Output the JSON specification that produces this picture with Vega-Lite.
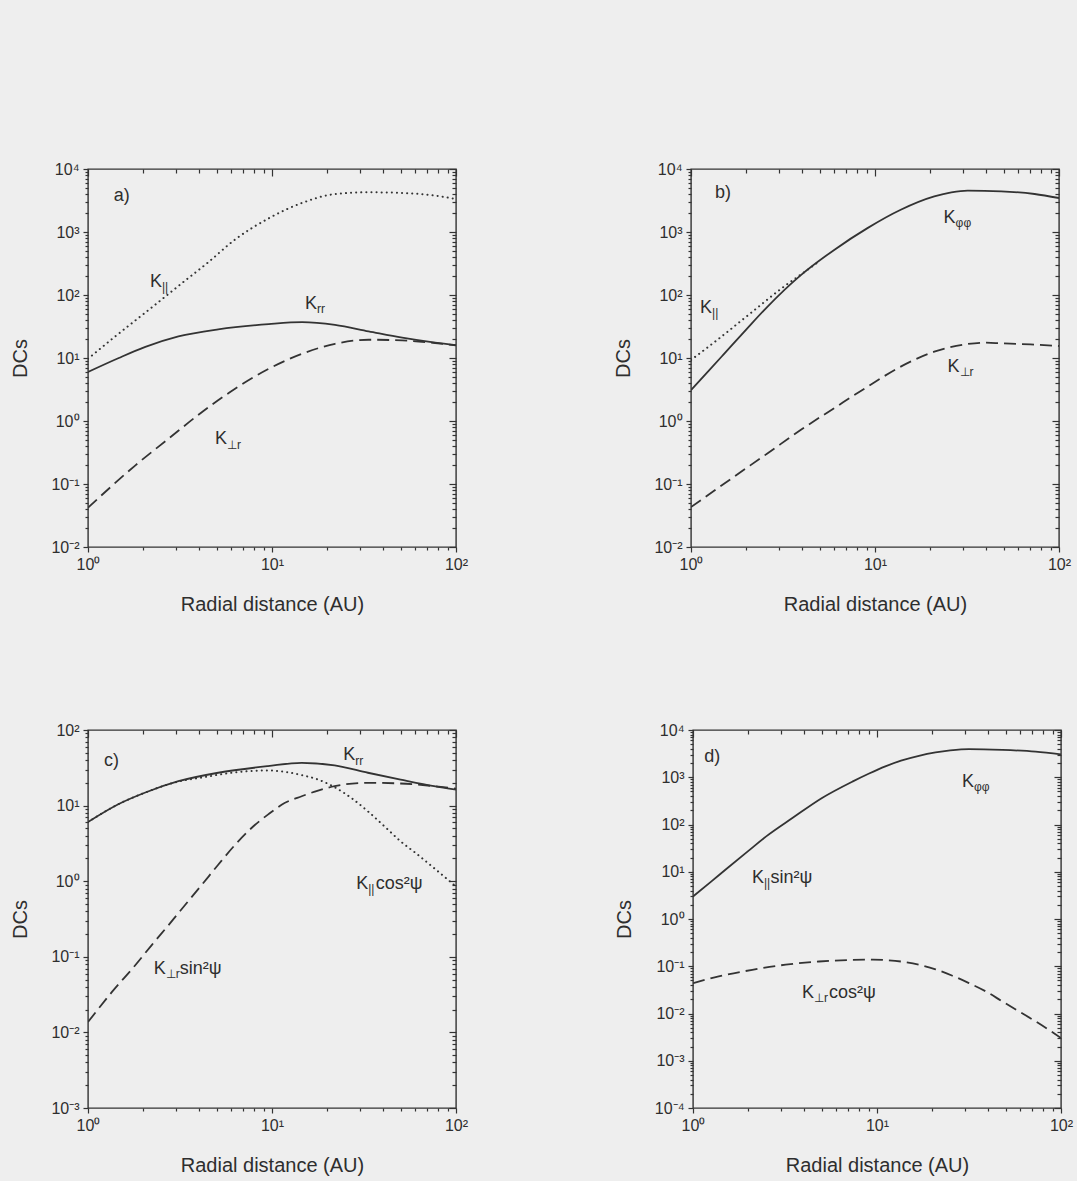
{
  "$schema": "https://vega.github.io/schema/vega-lite/v6.json",
  "background": "#eeeeee",
  "padding": {"left": 10, "top": 160, "right": 5, "bottom": 5},
  "config": {
    "view": {"stroke": "#333333", "strokeWidth": 1.4},
    "font": "Liberation Sans",
    "axis": {"grid": false, "domain": false, "tickColor": "#333333", "tickWidth": 1.2, "labelColor": "#2e2e2e", "titleColor": "#2e2e2e", "labelFont": "Liberation Sans", "titleFont": "Liberation Sans", "labelFontSize": 16, "titleFontSize": 20, "titleFontWeight": "normal", "labelOverlap": false, "labelBound": false, "labelFlush": false, "zindex": 2}
  },
  "datasets": {
    "curves": [
      {"p":"a","s":"Kpar","x":1,"y":9.7},{"p":"a","s":"Kpar","x":1.35,"y":20},{"p":"a","s":"Kpar","x":2.23,"y":64},{"p":"a","s":"Kpar","x":3.31,"y":162},{"p":"a","s":"Kpar","x":4.5,"y":330},{"p":"a","s":"Kpar","x":6.3,"y":760},{"p":"a","s":"Kpar","x":9.6,"y":1650},{"p":"a","s":"Kpar","x":14.6,"y":2900},{"p":"a","s":"Kpar","x":22,"y":4000},{"p":"a","s":"Kpar","x":33.5,"y":4270},{"p":"a","s":"Kpar","x":51,"y":4170},{"p":"a","s":"Kpar","x":77,"y":3780},{"p":"a","s":"Kpar","x":100,"y":3340},
      {"p":"a","s":"Krr","x":1,"y":6},{"p":"a","s":"Krr","x":1.47,"y":10},{"p":"a","s":"Krr","x":2.05,"y":15},{"p":"a","s":"Krr","x":3.1,"y":22},{"p":"a","s":"Krr","x":5.1,"y":28.5},{"p":"a","s":"Krr","x":9.6,"y":34.5},{"p":"a","s":"Krr","x":14.6,"y":37},{"p":"a","s":"Krr","x":22,"y":33.5},{"p":"a","s":"Krr","x":33.5,"y":26.5},{"p":"a","s":"Krr","x":51,"y":21},{"p":"a","s":"Krr","x":77,"y":17.5},{"p":"a","s":"Krr","x":100,"y":16},
      {"p":"a","s":"Kperp","x":1,"y":0.042},{"p":"a","s":"Kperp","x":1.81,"y":0.198},{"p":"a","s":"Kperp","x":2.74,"y":0.524},{"p":"a","s":"Kperp","x":4.17,"y":1.39},{"p":"a","s":"Kperp","x":6.3,"y":3.25},{"p":"a","s":"Kperp","x":9.6,"y":6.75},{"p":"a","s":"Kperp","x":14.6,"y":11.7},{"p":"a","s":"Kperp","x":22,"y":16.8},{"p":"a","s":"Kperp","x":33.5,"y":19.5},{"p":"a","s":"Kperp","x":51,"y":19},{"p":"a","s":"Kperp","x":77,"y":17.3},{"p":"a","s":"Kperp","x":100,"y":15.8},
      {"p":"b","s":"Kpar","x":1,"y":9.3},{"p":"b","s":"Kpar","x":1.39,"y":19.4},{"p":"b","s":"Kpar","x":2.1,"y":51},{"p":"b","s":"Kpar","x":3.2,"y":136},{"p":"b","s":"Kpar","x":4.29,"y":250},{"p":"b","s":"Kpar","x":5,"y":345},
      {"p":"b","s":"Kpp","x":1,"y":3.1},{"p":"b","s":"Kpp","x":1.25,"y":6.3},{"p":"b","s":"Kpp","x":1.5,"y":11.3},{"p":"b","s":"Kpp","x":2,"y":28.5},{"p":"b","s":"Kpp","x":2.6,"y":65},{"p":"b","s":"Kpp","x":3.94,"y":205},{"p":"b","s":"Kpp","x":6,"y":520},{"p":"b","s":"Kpp","x":9.1,"y":1153},{"p":"b","s":"Kpp","x":13.8,"y":2254},{"p":"b","s":"Kpp","x":21,"y":3670},{"p":"b","s":"Kpp","x":26,"y":4250},{"p":"b","s":"Kpp","x":31.9,"y":4530},{"p":"b","s":"Kpp","x":48.5,"y":4420},{"p":"b","s":"Kpp","x":73.7,"y":4010},{"p":"b","s":"Kpp","x":100,"y":3460},
      {"p":"b","s":"Kperp","x":1,"y":0.043},{"p":"b","s":"Kperp","x":1.71,"y":0.13},{"p":"b","s":"Kperp","x":2.6,"y":0.305},{"p":"b","s":"Kperp","x":3.94,"y":0.72},{"p":"b","s":"Kperp","x":6,"y":1.6},{"p":"b","s":"Kperp","x":9.1,"y":3.5},{"p":"b","s":"Kperp","x":13.8,"y":7.3},{"p":"b","s":"Kperp","x":21,"y":12.6},{"p":"b","s":"Kperp","x":31.9,"y":16.7},{"p":"b","s":"Kperp","x":39.4,"y":17.5},{"p":"b","s":"Kperp","x":48.5,"y":17.1},{"p":"b","s":"Kperp","x":70,"y":16.4},{"p":"b","s":"Kperp","x":100,"y":15.5},
      {"p":"c","s":"Kparc","x":1,"y":6.07},{"p":"c","s":"Kparc","x":1.47,"y":10.5},{"p":"c","s":"Kparc","x":2.05,"y":14.9},{"p":"c","s":"Kparc","x":3.1,"y":20.8},{"p":"c","s":"Kparc","x":4.15,"y":23.5},{"p":"c","s":"Kparc","x":6.3,"y":27.5},{"p":"c","s":"Kparc","x":9.5,"y":29.2},{"p":"c","s":"Kparc","x":11.7,"y":28},{"p":"c","s":"Kparc","x":14.5,"y":25.3},{"p":"c","s":"Kparc","x":17.8,"y":22.1},{"p":"c","s":"Kparc","x":21.9,"y":17.5},{"p":"c","s":"Kparc","x":27,"y":12.6},{"p":"c","s":"Kparc","x":33.2,"y":8.4},{"p":"c","s":"Kparc","x":40.9,"y":5.3},{"p":"c","s":"Kparc","x":50,"y":3.37},{"p":"c","s":"Kparc","x":62,"y":2.24},{"p":"c","s":"Kparc","x":76,"y":1.49},{"p":"c","s":"Kparc","x":100,"y":0.85},
      {"p":"c","s":"Krr","x":1,"y":6.07},{"p":"c","s":"Krr","x":1.47,"y":10.5},{"p":"c","s":"Krr","x":2.05,"y":14.9},{"p":"c","s":"Krr","x":3.1,"y":21},{"p":"c","s":"Krr","x":5.1,"y":27.2},{"p":"c","s":"Krr","x":9.5,"y":33.3},{"p":"c","s":"Krr","x":14.5,"y":36.8},{"p":"c","s":"Krr","x":21.9,"y":34},{"p":"c","s":"Krr","x":33.2,"y":27.2},{"p":"c","s":"Krr","x":50,"y":22.1},{"p":"c","s":"Krr","x":76,"y":18.1},{"p":"c","s":"Krr","x":100,"y":16.3},
      {"p":"c","s":"Kperps","x":1,"y":0.0137},{"p":"c","s":"Kperps","x":1.35,"y":0.0343},{"p":"c","s":"Kperps","x":1.806,"y":0.0774},{"p":"c","s":"Kperps","x":2.22,"y":0.143},{"p":"c","s":"Kperps","x":2.74,"y":0.263},{"p":"c","s":"Kperps","x":3.37,"y":0.485},{"p":"c","s":"Kperps","x":4.15,"y":0.893},{"p":"c","s":"Kperps","x":5.1,"y":1.65},{"p":"c","s":"Kperps","x":6.3,"y":3.03},{"p":"c","s":"Kperps","x":7.74,"y":5.06},{"p":"c","s":"Kperps","x":9.5,"y":7.6},{"p":"c","s":"Kperps","x":11.7,"y":10.8},{"p":"c","s":"Kperps","x":14.5,"y":13.3},{"p":"c","s":"Kperps","x":17.8,"y":15.8},{"p":"c","s":"Kperps","x":21.9,"y":18.1},{"p":"c","s":"Kperps","x":33.2,"y":20},{"p":"c","s":"Kperps","x":50,"y":19.6},{"p":"c","s":"Kperps","x":76,"y":18.1},{"p":"c","s":"Kperps","x":100,"y":16.8},
      {"p":"d","s":"Kpp","x":1,"y":3},{"p":"d","s":"Kpp","x":1.25,"y":6.1},{"p":"d","s":"Kpp","x":1.5,"y":11},{"p":"d","s":"Kpp","x":2,"y":27.6},{"p":"d","s":"Kpp","x":2.5,"y":56},{"p":"d","s":"Kpp","x":3.5,"y":140},{"p":"d","s":"Kpp","x":5,"y":360},{"p":"d","s":"Kpp","x":7.35,"y":809},{"p":"d","s":"Kpp","x":9.06,"y":1200},{"p":"d","s":"Kpp","x":11.1,"y":1700},{"p":"d","s":"Kpp","x":13.5,"y":2250},{"p":"d","s":"Kpp","x":16.9,"y":2850},{"p":"d","s":"Kpp","x":20.8,"y":3350},{"p":"d","s":"Kpp","x":25,"y":3700},{"p":"d","s":"Kpp","x":31.6,"y":3950},{"p":"d","s":"Kpp","x":48,"y":3800},{"p":"d","s":"Kpp","x":72.8,"y":3480},{"p":"d","s":"Kpp","x":100,"y":3060},
      {"p":"d","s":"Kperpc","x":1,"y":0.044},{"p":"d","s":"Kperpc","x":1.38,"y":0.061},{"p":"d","s":"Kperpc","x":2.1,"y":0.084},{"p":"d","s":"Kperpc","x":3.19,"y":0.108},{"p":"d","s":"Kperpc","x":4.84,"y":0.126},{"p":"d","s":"Kperpc","x":7.35,"y":0.136},{"p":"d","s":"Kperpc","x":9.5,"y":0.138},{"p":"d","s":"Kperpc","x":11.1,"y":0.135},{"p":"d","s":"Kperpc","x":13.7,"y":0.125},{"p":"d","s":"Kperpc","x":16.9,"y":0.108},{"p":"d","s":"Kperpc","x":20.8,"y":0.086},{"p":"d","s":"Kperpc","x":25.7,"y":0.063},{"p":"d","s":"Kperpc","x":31.6,"y":0.044},{"p":"d","s":"Kperpc","x":39,"y":0.0294},{"p":"d","s":"Kperpc","x":48,"y":0.018},{"p":"d","s":"Kperpc","x":59,"y":0.0111},{"p":"d","s":"Kperpc","x":72.8,"y":0.00682},{"p":"d","s":"Kperpc","x":100,"y":0.00303}
    ],
    "labels": [
      {"p":"a","x":1.38,"y":3140,"t":"a)","sb":""},
      {"p":"a","x":2.17,"y":134,"t":"K","sb":"||"},
      {"p":"a","x":15.1,"y":60,"t":"K","sb":"rr"},
      {"p":"a","x":4.9,"y":0.43,"t":"K","sb":"⊥r"},
      {"p":"b","x":1.35,"y":3470,"t":"b)","sb":""},
      {"p":"b","x":1.12,"y":51.8,"t":"K","sb":"||"},
      {"p":"b","x":23.6,"y":1390,"t":"K","sb":"φφ"},
      {"p":"b","x":24.8,"y":6,"t":"K","sb":"⊥r"},
      {"p":"c","x":1.22,"y":33.3,"t":"c)","sb":""},
      {"p":"c","x":24.4,"y":40,"t":"K","sb":"rr"},
      {"p":"c","x":28.7,"y":0.8,"t":"K","sb":"||"},
      {"p":"c","x":36.6,"y":0.8,"t":"cos²ψ","sb":""},
      {"p":"c","x":2.28,"y":0.0598,"t":"K","sb":"⊥r"},
      {"p":"c","x":3.15,"y":0.0598,"t":"sin²ψ","sb":""},
      {"p":"d","x":1.15,"y":2100,"t":"d)","sb":""},
      {"p":"d","x":29,"y":622,"t":"K","sb":"φφ"},
      {"p":"d","x":2.09,"y":5.78,"t":"K","sb":"||"},
      {"p":"d","x":2.64,"y":5.78,"t":"sin²ψ","sb":""},
      {"p":"d","x":3.91,"y":0.0213,"t":"K","sb":"⊥r"},
      {"p":"d","x":5.48,"y":0.0213,"t":"cos²ψ","sb":""}
    ]
  },
  "spacing": 106,
  "vconcat": [
    {"spacing": 144, "hconcat": [
      {"width": 368, "height": 378,
       "resolve": {"axis": {"x": "independent", "y": "independent"}},
       "layer": [
        {"data": {"name": "curves"}, "transform": [{"filter": "datum.p == 'a'"}],
         "encoding": {
           "x": {"field": "x", "type": "quantitative", "scale": {"type": "log", "domain": [1, 100], "nice": false},
                 "axis": {"orient": "bottom", "values": [1, 10, 100], "title": "Radial distance (AU)", "titlePadding": 22, "labelPadding": 4, "tickSize": 5,
                          "labelExpr": "'10' + (round(log(datum.value)/LN10) < 0 ? '⁻' : '') + substring('⁰¹²³⁴⁵⁶⁷⁸⁹', abs(round(log(datum.value)/LN10)), abs(round(log(datum.value)/LN10)) + 1)"}},
           "y": {"field": "y", "type": "quantitative", "scale": {"type": "log", "domain": [0.01, 10000], "nice": false},
                 "axis": {"orient": "left", "values": [0.01, 0.1, 1, 10, 100, 1000, 10000], "title": "DCs", "titlePadding": 20, "labelPadding": 4, "tickSize": 5,
                          "labelExpr": "'10' + (round(log(datum.value)/LN10) < 0 ? '⁻' : '') + substring('⁰¹²³⁴⁵⁶⁷⁸⁹', abs(round(log(datum.value)/LN10)), abs(round(log(datum.value)/LN10)) + 1)"}},
           "detail": {"field": "s"}
         },
         "layer": [
           {"transform": [{"filter": {"field": "s", "oneOf": ["Kpar", "Kparc"]}}], "mark": {"type": "line", "interpolate": "monotone", "color": "#333333", "strokeWidth": 2, "strokeDash": [0.1, 5], "strokeCap": "round", "clip": true}},
           {"transform": [{"filter": {"field": "s", "oneOf": ["Kperp", "Kperps", "Kperpc"]}}], "mark": {"type": "line", "interpolate": "monotone", "color": "#333333", "strokeWidth": 1.8, "strokeDash": [12, 6], "clip": true}},
           {"transform": [{"filter": {"field": "s", "oneOf": ["Krr", "Kpp"]}}], "mark": {"type": "line", "interpolate": "monotone", "color": "#333333", "strokeWidth": 1.8, "clip": true}}
         ]},
        {"data": {"name": "labels"}, "transform": [{"filter": "datum.p == 'a'"}],
         "encoding": {
           "x": {"field": "x", "type": "quantitative", "scale": {"type": "log", "domain": [1, 100], "nice": false},
                 "axis": {"orient": "top", "values": [1, 10, 100], "title": null, "labels": false, "tickSize": 7, "offset": -7}},
           "y": {"field": "y", "type": "quantitative", "scale": {"type": "log", "domain": [0.01, 10000], "nice": false},
                 "axis": {"orient": "right", "values": [0.01, 0.1, 1, 10, 100, 1000, 10000], "title": null, "labels": false, "tickSize": 7, "offset": -7}}
         },
         "layer": [
           {"mark": {"type": "text", "align": "left", "baseline": "alphabetic", "fontSize": 18, "color": "#2e2e2e", "font": "Liberation Sans"}, "encoding": {"text": {"field": "t"}}},
           {"mark": {"type": "text", "align": "left", "baseline": "alphabetic", "fontSize": 12, "dx": 12, "dy": 4.5, "color": "#2e2e2e", "font": "Liberation Sans"}, "encoding": {"text": {"field": "sb"}}}
         ]},
        {"data": {"name": "labels"}, "transform": [{"filter": "datum.p == 'a'"}],
         "mark": {"type": "text", "text": ""},
         "encoding": {
           "x": {"field": "x", "type": "quantitative", "scale": {"type": "log", "domain": [1, 100], "nice": false},
                 "axis": {"orient": "top", "values": [2,3,4,5,6,7,8,9,20,30,40,50,60,70,80,90], "title": null, "labels": false, "tickSize": 4, "offset": -4}},
           "y": {"field": "y", "type": "quantitative", "scale": {"type": "log", "domain": [0.01, 10000], "nice": false},
                 "axis": {"orient": "right", "values": [0.02,0.03,0.04,0.05,0.06,0.07,0.08,0.09,0.2,0.3,0.4,0.5,0.6,0.7,0.8,0.9,2,3,4,5,6,7,8,9,20,30,40,50,60,70,80,90,200,300,400,500,600,700,800,900,2000,3000,4000,5000,6000,7000,8000,9000], "title": null, "labels": false, "tickSize": 4, "offset": -4}}
         }},
        {"data": {"name": "labels"}, "transform": [{"filter": "datum.p == 'a'"}],
         "mark": {"type": "text", "text": ""},
         "encoding": {
           "x": {"field": "x", "type": "quantitative", "scale": {"type": "log", "domain": [1, 100], "nice": false},
                 "axis": {"orient": "bottom", "values": [2,3,4,5,6,7,8,9,20,30,40,50,60,70,80,90], "title": null, "labels": false, "tickSize": 3}},
           "y": {"field": "y", "type": "quantitative", "scale": {"type": "log", "domain": [0.01, 10000], "nice": false},
                 "axis": {"orient": "left", "values": [0.02,0.03,0.04,0.05,0.06,0.07,0.08,0.09,0.2,0.3,0.4,0.5,0.6,0.7,0.8,0.9,2,3,4,5,6,7,8,9,20,30,40,50,60,70,80,90,200,300,400,500,600,700,800,900,2000,3000,4000,5000,6000,7000,8000,9000], "title": null, "labels": false, "tickSize": 3}}
         }}
       ]},
      {"width": 368, "height": 378,
       "resolve": {"axis": {"x": "independent", "y": "independent"}},
       "layer": [
        {"data": {"name": "curves"}, "transform": [{"filter": "datum.p == 'b'"}],
         "encoding": {
           "x": {"field": "x", "type": "quantitative", "scale": {"type": "log", "domain": [1, 100], "nice": false},
                 "axis": {"orient": "bottom", "values": [1, 10, 100], "title": "Radial distance (AU)", "titlePadding": 22, "labelPadding": 4, "tickSize": 5,
                          "labelExpr": "'10' + (round(log(datum.value)/LN10) < 0 ? '⁻' : '') + substring('⁰¹²³⁴⁵⁶⁷⁸⁹', abs(round(log(datum.value)/LN10)), abs(round(log(datum.value)/LN10)) + 1)"}},
           "y": {"field": "y", "type": "quantitative", "scale": {"type": "log", "domain": [0.01, 10000], "nice": false},
                 "axis": {"orient": "left", "values": [0.01, 0.1, 1, 10, 100, 1000, 10000], "title": "DCs", "titlePadding": 20, "labelPadding": 4, "tickSize": 5,
                          "labelExpr": "'10' + (round(log(datum.value)/LN10) < 0 ? '⁻' : '') + substring('⁰¹²³⁴⁵⁶⁷⁸⁹', abs(round(log(datum.value)/LN10)), abs(round(log(datum.value)/LN10)) + 1)"}},
           "detail": {"field": "s"}
         },
         "layer": [
           {"transform": [{"filter": {"field": "s", "oneOf": ["Kpar", "Kparc"]}}], "mark": {"type": "line", "interpolate": "monotone", "color": "#333333", "strokeWidth": 2, "strokeDash": [0.1, 5], "strokeCap": "round", "clip": true}},
           {"transform": [{"filter": {"field": "s", "oneOf": ["Kperp", "Kperps", "Kperpc"]}}], "mark": {"type": "line", "interpolate": "monotone", "color": "#333333", "strokeWidth": 1.8, "strokeDash": [12, 6], "clip": true}},
           {"transform": [{"filter": {"field": "s", "oneOf": ["Krr", "Kpp"]}}], "mark": {"type": "line", "interpolate": "monotone", "color": "#333333", "strokeWidth": 1.8, "clip": true}}
         ]},
        {"data": {"name": "labels"}, "transform": [{"filter": "datum.p == 'b'"}],
         "encoding": {
           "x": {"field": "x", "type": "quantitative", "scale": {"type": "log", "domain": [1, 100], "nice": false},
                 "axis": {"orient": "top", "values": [1, 10, 100], "title": null, "labels": false, "tickSize": 7, "offset": -7}},
           "y": {"field": "y", "type": "quantitative", "scale": {"type": "log", "domain": [0.01, 10000], "nice": false},
                 "axis": {"orient": "right", "values": [0.01, 0.1, 1, 10, 100, 1000, 10000], "title": null, "labels": false, "tickSize": 7, "offset": -7}}
         },
         "layer": [
           {"mark": {"type": "text", "align": "left", "baseline": "alphabetic", "fontSize": 18, "color": "#2e2e2e", "font": "Liberation Sans"}, "encoding": {"text": {"field": "t"}}},
           {"mark": {"type": "text", "align": "left", "baseline": "alphabetic", "fontSize": 12, "dx": 12, "dy": 4.5, "color": "#2e2e2e", "font": "Liberation Sans"}, "encoding": {"text": {"field": "sb"}}}
         ]},
        {"data": {"name": "labels"}, "transform": [{"filter": "datum.p == 'b'"}],
         "mark": {"type": "text", "text": ""},
         "encoding": {
           "x": {"field": "x", "type": "quantitative", "scale": {"type": "log", "domain": [1, 100], "nice": false},
                 "axis": {"orient": "top", "values": [2,3,4,5,6,7,8,9,20,30,40,50,60,70,80,90], "title": null, "labels": false, "tickSize": 4, "offset": -4}},
           "y": {"field": "y", "type": "quantitative", "scale": {"type": "log", "domain": [0.01, 10000], "nice": false},
                 "axis": {"orient": "right", "values": [0.02,0.03,0.04,0.05,0.06,0.07,0.08,0.09,0.2,0.3,0.4,0.5,0.6,0.7,0.8,0.9,2,3,4,5,6,7,8,9,20,30,40,50,60,70,80,90,200,300,400,500,600,700,800,900,2000,3000,4000,5000,6000,7000,8000,9000], "title": null, "labels": false, "tickSize": 4, "offset": -4}}
         }},
        {"data": {"name": "labels"}, "transform": [{"filter": "datum.p == 'b'"}],
         "mark": {"type": "text", "text": ""},
         "encoding": {
           "x": {"field": "x", "type": "quantitative", "scale": {"type": "log", "domain": [1, 100], "nice": false},
                 "axis": {"orient": "bottom", "values": [2,3,4,5,6,7,8,9,20,30,40,50,60,70,80,90], "title": null, "labels": false, "tickSize": 3}},
           "y": {"field": "y", "type": "quantitative", "scale": {"type": "log", "domain": [0.01, 10000], "nice": false},
                 "axis": {"orient": "left", "values": [0.02,0.03,0.04,0.05,0.06,0.07,0.08,0.09,0.2,0.3,0.4,0.5,0.6,0.7,0.8,0.9,2,3,4,5,6,7,8,9,20,30,40,50,60,70,80,90,200,300,400,500,600,700,800,900,2000,3000,4000,5000,6000,7000,8000,9000], "title": null, "labels": false, "tickSize": 3}}
         }}
       ]}
    ]},
    {"spacing": 144, "hconcat": [
      {"width": 368, "height": 378,
       "resolve": {"axis": {"x": "independent", "y": "independent"}},
       "layer": [
        {"data": {"name": "curves"}, "transform": [{"filter": "datum.p == 'c'"}],
         "encoding": {
           "x": {"field": "x", "type": "quantitative", "scale": {"type": "log", "domain": [1, 100], "nice": false},
                 "axis": {"orient": "bottom", "values": [1, 10, 100], "title": "Radial distance (AU)", "titlePadding": 22, "labelPadding": 4, "tickSize": 5,
                          "labelExpr": "'10' + (round(log(datum.value)/LN10) < 0 ? '⁻' : '') + substring('⁰¹²³⁴⁵⁶⁷⁸⁹', abs(round(log(datum.value)/LN10)), abs(round(log(datum.value)/LN10)) + 1)"}},
           "y": {"field": "y", "type": "quantitative", "scale": {"type": "log", "domain": [0.001, 100], "nice": false},
                 "axis": {"orient": "left", "values": [0.001, 0.01, 0.1, 1, 10, 100], "title": "DCs", "titlePadding": 20, "labelPadding": 4, "tickSize": 5,
                          "labelExpr": "'10' + (round(log(datum.value)/LN10) < 0 ? '⁻' : '') + substring('⁰¹²³⁴⁵⁶⁷⁸⁹', abs(round(log(datum.value)/LN10)), abs(round(log(datum.value)/LN10)) + 1)"}},
           "detail": {"field": "s"}
         },
         "layer": [
           {"transform": [{"filter": {"field": "s", "oneOf": ["Kpar", "Kparc"]}}], "mark": {"type": "line", "interpolate": "monotone", "color": "#333333", "strokeWidth": 2, "strokeDash": [0.1, 5], "strokeCap": "round", "clip": true}},
           {"transform": [{"filter": {"field": "s", "oneOf": ["Kperp", "Kperps", "Kperpc"]}}], "mark": {"type": "line", "interpolate": "monotone", "color": "#333333", "strokeWidth": 1.8, "strokeDash": [12, 6], "clip": true}},
           {"transform": [{"filter": {"field": "s", "oneOf": ["Krr", "Kpp"]}}], "mark": {"type": "line", "interpolate": "monotone", "color": "#333333", "strokeWidth": 1.8, "clip": true}}
         ]},
        {"data": {"name": "labels"}, "transform": [{"filter": "datum.p == 'c'"}],
         "encoding": {
           "x": {"field": "x", "type": "quantitative", "scale": {"type": "log", "domain": [1, 100], "nice": false},
                 "axis": {"orient": "top", "values": [1, 10, 100], "title": null, "labels": false, "tickSize": 7, "offset": -7}},
           "y": {"field": "y", "type": "quantitative", "scale": {"type": "log", "domain": [0.001, 100], "nice": false},
                 "axis": {"orient": "right", "values": [0.001, 0.01, 0.1, 1, 10, 100], "title": null, "labels": false, "tickSize": 7, "offset": -7}}
         },
         "layer": [
           {"mark": {"type": "text", "align": "left", "baseline": "alphabetic", "fontSize": 18, "color": "#2e2e2e", "font": "Liberation Sans"}, "encoding": {"text": {"field": "t"}}},
           {"mark": {"type": "text", "align": "left", "baseline": "alphabetic", "fontSize": 12, "dx": 12, "dy": 4.5, "color": "#2e2e2e", "font": "Liberation Sans"}, "encoding": {"text": {"field": "sb"}}}
         ]},
        {"data": {"name": "labels"}, "transform": [{"filter": "datum.p == 'c'"}],
         "mark": {"type": "text", "text": ""},
         "encoding": {
           "x": {"field": "x", "type": "quantitative", "scale": {"type": "log", "domain": [1, 100], "nice": false},
                 "axis": {"orient": "top", "values": [2,3,4,5,6,7,8,9,20,30,40,50,60,70,80,90], "title": null, "labels": false, "tickSize": 4, "offset": -4}},
           "y": {"field": "y", "type": "quantitative", "scale": {"type": "log", "domain": [0.001, 100], "nice": false},
                 "axis": {"orient": "right", "values": [0.002,0.003,0.004,0.005,0.006,0.007,0.008,0.009,0.02,0.03,0.04,0.05,0.06,0.07,0.08,0.09,0.2,0.3,0.4,0.5,0.6,0.7,0.8,0.9,2,3,4,5,6,7,8,9,20,30,40,50,60,70,80,90], "title": null, "labels": false, "tickSize": 4, "offset": -4}}
         }},
        {"data": {"name": "labels"}, "transform": [{"filter": "datum.p == 'c'"}],
         "mark": {"type": "text", "text": ""},
         "encoding": {
           "x": {"field": "x", "type": "quantitative", "scale": {"type": "log", "domain": [1, 100], "nice": false},
                 "axis": {"orient": "bottom", "values": [2,3,4,5,6,7,8,9,20,30,40,50,60,70,80,90], "title": null, "labels": false, "tickSize": 3}},
           "y": {"field": "y", "type": "quantitative", "scale": {"type": "log", "domain": [0.001, 100], "nice": false},
                 "axis": {"orient": "left", "values": [0.002,0.003,0.004,0.005,0.006,0.007,0.008,0.009,0.02,0.03,0.04,0.05,0.06,0.07,0.08,0.09,0.2,0.3,0.4,0.5,0.6,0.7,0.8,0.9,2,3,4,5,6,7,8,9,20,30,40,50,60,70,80,90], "title": null, "labels": false, "tickSize": 3}}
         }}
       ]},
      {"width": 368, "height": 378,
       "resolve": {"axis": {"x": "independent", "y": "independent"}},
       "layer": [
        {"data": {"name": "curves"}, "transform": [{"filter": "datum.p == 'd'"}],
         "encoding": {
           "x": {"field": "x", "type": "quantitative", "scale": {"type": "log", "domain": [1, 100], "nice": false},
                 "axis": {"orient": "bottom", "values": [1, 10, 100], "title": "Radial distance (AU)", "titlePadding": 22, "labelPadding": 4, "tickSize": 5,
                          "labelExpr": "'10' + (round(log(datum.value)/LN10) < 0 ? '⁻' : '') + substring('⁰¹²³⁴⁵⁶⁷⁸⁹', abs(round(log(datum.value)/LN10)), abs(round(log(datum.value)/LN10)) + 1)"}},
           "y": {"field": "y", "type": "quantitative", "scale": {"type": "log", "domain": [0.0001, 10000], "nice": false},
                 "axis": {"orient": "left", "values": [0.0001, 0.001, 0.01, 0.1, 1, 10, 100, 1000, 10000], "title": "DCs", "titlePadding": 20, "labelPadding": 4, "tickSize": 5,
                          "labelExpr": "'10' + (round(log(datum.value)/LN10) < 0 ? '⁻' : '') + substring('⁰¹²³⁴⁵⁶⁷⁸⁹', abs(round(log(datum.value)/LN10)), abs(round(log(datum.value)/LN10)) + 1)"}},
           "detail": {"field": "s"}
         },
         "layer": [
           {"transform": [{"filter": {"field": "s", "oneOf": ["Kpar", "Kparc"]}}], "mark": {"type": "line", "interpolate": "monotone", "color": "#333333", "strokeWidth": 2, "strokeDash": [0.1, 5], "strokeCap": "round", "clip": true}},
           {"transform": [{"filter": {"field": "s", "oneOf": ["Kperp", "Kperps", "Kperpc"]}}], "mark": {"type": "line", "interpolate": "monotone", "color": "#333333", "strokeWidth": 1.8, "strokeDash": [12, 6], "clip": true}},
           {"transform": [{"filter": {"field": "s", "oneOf": ["Krr", "Kpp"]}}], "mark": {"type": "line", "interpolate": "monotone", "color": "#333333", "strokeWidth": 1.8, "clip": true}}
         ]},
        {"data": {"name": "labels"}, "transform": [{"filter": "datum.p == 'd'"}],
         "encoding": {
           "x": {"field": "x", "type": "quantitative", "scale": {"type": "log", "domain": [1, 100], "nice": false},
                 "axis": {"orient": "top", "values": [1, 10, 100], "title": null, "labels": false, "tickSize": 7, "offset": -7}},
           "y": {"field": "y", "type": "quantitative", "scale": {"type": "log", "domain": [0.0001, 10000], "nice": false},
                 "axis": {"orient": "right", "values": [0.0001, 0.001, 0.01, 0.1, 1, 10, 100, 1000, 10000], "title": null, "labels": false, "tickSize": 7, "offset": -7}}
         },
         "layer": [
           {"mark": {"type": "text", "align": "left", "baseline": "alphabetic", "fontSize": 18, "color": "#2e2e2e", "font": "Liberation Sans"}, "encoding": {"text": {"field": "t"}}},
           {"mark": {"type": "text", "align": "left", "baseline": "alphabetic", "fontSize": 12, "dx": 12, "dy": 4.5, "color": "#2e2e2e", "font": "Liberation Sans"}, "encoding": {"text": {"field": "sb"}}}
         ]},
        {"data": {"name": "labels"}, "transform": [{"filter": "datum.p == 'd'"}],
         "mark": {"type": "text", "text": ""},
         "encoding": {
           "x": {"field": "x", "type": "quantitative", "scale": {"type": "log", "domain": [1, 100], "nice": false},
                 "axis": {"orient": "top", "values": [2,3,4,5,6,7,8,9,20,30,40,50,60,70,80,90], "title": null, "labels": false, "tickSize": 4, "offset": -4}},
           "y": {"field": "y", "type": "quantitative", "scale": {"type": "log", "domain": [0.0001, 10000], "nice": false},
                 "axis": {"orient": "right", "values": [0.0002,0.0003,0.0004,0.0005,0.0006,0.0007,0.0008,0.0009,0.002,0.003,0.004,0.005,0.006,0.007,0.008,0.009,0.02,0.03,0.04,0.05,0.06,0.07,0.08,0.09,0.2,0.3,0.4,0.5,0.6,0.7,0.8,0.9,2,3,4,5,6,7,8,9,20,30,40,50,60,70,80,90,200,300,400,500,600,700,800,900,2000,3000,4000,5000,6000,7000,8000,9000], "title": null, "labels": false, "tickSize": 4, "offset": -4}}
         }},
        {"data": {"name": "labels"}, "transform": [{"filter": "datum.p == 'd'"}],
         "mark": {"type": "text", "text": ""},
         "encoding": {
           "x": {"field": "x", "type": "quantitative", "scale": {"type": "log", "domain": [1, 100], "nice": false},
                 "axis": {"orient": "bottom", "values": [2,3,4,5,6,7,8,9,20,30,40,50,60,70,80,90], "title": null, "labels": false, "tickSize": 3}},
           "y": {"field": "y", "type": "quantitative", "scale": {"type": "log", "domain": [0.0001, 10000], "nice": false},
                 "axis": {"orient": "left", "values": [0.0002,0.0003,0.0004,0.0005,0.0006,0.0007,0.0008,0.0009,0.002,0.003,0.004,0.005,0.006,0.007,0.008,0.009,0.02,0.03,0.04,0.05,0.06,0.07,0.08,0.09,0.2,0.3,0.4,0.5,0.6,0.7,0.8,0.9,2,3,4,5,6,7,8,9,20,30,40,50,60,70,80,90,200,300,400,500,600,700,800,900,2000,3000,4000,5000,6000,7000,8000,9000], "title": null, "labels": false, "tickSize": 3}}
         }}
       ]}
    ]}
  ]
}
